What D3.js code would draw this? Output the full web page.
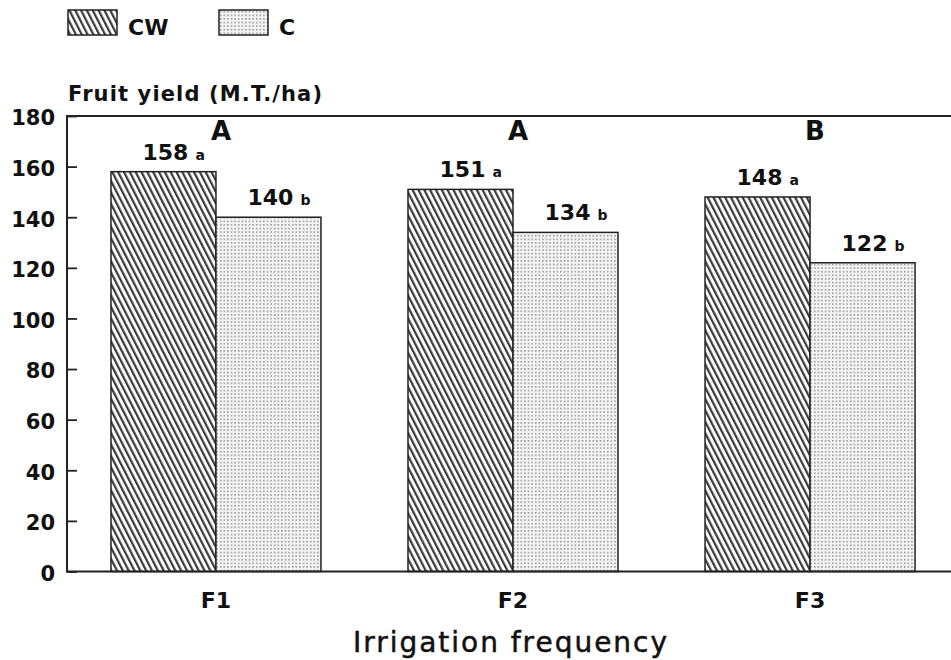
<!DOCTYPE html>
<html>
<head>
<meta charset="utf-8">
<script src="https://cdn.jsdelivr.net/npm/d3@7"></script>
<style>
  html, body { margin: 0; padding: 0; background: #fff; }
  svg { display: block; }
  text { font-family: "DejaVu Sans", "Liberation Sans", Arial, sans-serif; fill: #111; }
</style>
</head>
<body>
<svg id="chart" width="951" height="660"></svg>
<script>
// Fruit yield by irrigation frequency, two treatments
const groups = ["F1", "F2", "F3"];
const series = ["CW", "C"];
const cwValues = [158, 151, 148];
const cValues = [140, 134, 122];
const cwLetters = ["a", "a", "a"];
const cLetters = ["b", "b", "b"];
const groupLetters = ["A", "A", "B"];
const yTicks = [0, 20, 40, 60, 80, 100, 120, 140, 160, 180];
const yTitle = "Fruit yield (M.T./ha)";
const xTitle = "Irrigation frequency";

const rows = groups.map((g, i) => ({
  group: g,
  groupLetter: groupLetters[i],
  bars: [
    { key: "CW", value: cwValues[i], letter: cwLetters[i] },
    { key: "C", value: cValues[i], letter: cLetters[i] }
  ]
}));

const svg = d3.select("#chart");
const plotLeft = 67, plotTop = 116, plotBottom = 571.5, plotRight = 959;
const FONT = "'DejaVu Sans', 'Liberation Sans', Arial, sans-serif";

// fill patterns: dense diagonal hatch and fine dot screen
const defs = svg.append("defs");
const hatch = defs.append("pattern")
  .attr("id", "hatch")
  .attr("patternUnits", "userSpaceOnUse")
  .attr("width", 5.2).attr("height", 10)
  .attr("patternTransform", "rotate(-27)");
hatch.append("rect").attr("width", 5.2).attr("height", 10).attr("fill", "#fff");
hatch.append("rect").attr("x", 0).attr("width", 2.2).attr("height", 10).attr("fill", "#3a3a3a");

const dots = defs.append("pattern")
  .attr("id", "dots")
  .attr("patternUnits", "userSpaceOnUse")
  .attr("width", 3.6).attr("height", 3.6);
dots.append("rect").attr("width", 3.6).attr("height", 3.6).attr("fill", "#f4f4f4");
dots.append("rect").attr("x", 0.9).attr("y", 0.9).attr("width", 1.6).attr("height", 1.6).attr("fill", "#9a9a9a");

const fillFor = { CW: "url(#hatch)", C: "url(#dots)" };

// scales
const x0 = d3.scaleBand().domain(groups).range([plotLeft, plotRight])
  .paddingInner(0.293).paddingOuter(0.148);
const x1 = d3.scaleBand().domain(series).range([0, x0.bandwidth()]);
const y = d3.scaleLinear().domain([0, 180]).range([plotBottom, plotTop]);

// bars
const g = svg.append("g");
const grp = g.selectAll("g.grp").data(rows).join("g")
  .attr("class", "grp")
  .attr("transform", d => `translate(${x0(d.group)},0)`);

grp.selectAll("rect").data(d => d.bars).join("rect")
  .attr("x", d => x1(d.key))
  .attr("y", d => y(d.value))
  .attr("width", x1.bandwidth())
  .attr("height", d => y(0) - y(d.value))
  .attr("fill", d => fillFor[d.key])
  .attr("stroke", "#222")
  .attr("stroke-width", 1.5);

// value labels with significance letters
grp.each(function (d) {
  const sel = d3.select(this);
  d.bars.forEach(b => {
    const cx = x1(b.key) + x1.bandwidth() / 2 + 2;
    const t = sel.append("text")
      .attr("x", cx)
      .attr("y", y(b.value) - 12)
      .attr("text-anchor", "middle")
      .attr("font-size", 22)
      .attr("font-weight", "bold")
      .text(b.value);
    const bb = t.node().getBBox();
    sel.append("text")
      .attr("x", bb.x + bb.width + 7)
      .attr("y", y(b.value) - 12)
      .attr("font-size", 14)
      .attr("font-weight", "bold")
      .text(b.letter);
  });
  sel.append("text")
    .attr("x", x0.bandwidth() / 2 + 5)
    .attr("y", 140)
    .attr("text-anchor", "middle")
    .attr("font-size", 26)
    .attr("font-weight", "bold")
    .text(d.groupLetter);
});

// y axis with inward ticks
const yAxis = d3.axisLeft(y).tickValues(yTicks).tickSizeInner(-10).tickSizeOuter(0).tickPadding(12);
const ya = svg.append("g").attr("transform", `translate(${plotLeft},0)`).call(yAxis);
ya.select(".domain").remove();
ya.selectAll(".tick line").attr("stroke", "#222").attr("stroke-width", 1.8);
ya.selectAll(".tick text")
  .attr("font-size", 21)
  .attr("font-weight", "bold")
  .attr("dy", "0.42em")
  .attr("fill", "#111")
  .style("font-family", FONT);

// x axis labels
const xAxis = d3.axisBottom(x0).tickSize(0).tickPadding(0);
const xa = svg.append("g").attr("transform", `translate(0,${plotBottom})`).call(xAxis);
xa.select(".domain").remove();
xa.selectAll(".tick text")
  .attr("y", 36)
  .attr("dy", 0)
  .attr("font-size", 22)
  .attr("font-weight", "bold")
  .attr("fill", "#111")
  .style("font-family", FONT);

// plot frame: top, left and bottom edges
svg.append("path")
  .attr("d", `M${951},${plotTop}H${plotLeft}V${plotBottom}H${951}`)
  .attr("fill", "none")
  .attr("stroke", "#222")
  .attr("stroke-width", 2);

// axis titles
svg.append("text")
  .attr("x", 68).attr("y", 101)
  .attr("font-size", 21).attr("font-weight", "bold")
  .attr("textLength", 254).attr("lengthAdjust", "spacing")
  .text(yTitle);

svg.append("text")
  .attr("x", 353).attr("y", 652)
  .attr("font-size", 28)
  .attr("stroke", "#111").attr("stroke-width", 0.5)
  .attr("textLength", 314).attr("lengthAdjust", "spacing")
  .text(xTitle);

// legend
const legend = svg.append("g");
const legendX = d3.scalePoint().domain(series).range([68, 219]);
const li = legend.selectAll("g").data(series).join("g")
  .attr("transform", d => `translate(${legendX(d)},10)`);
li.append("rect")
  .attr("width", 49).attr("height", 25)
  .attr("fill", d => fillFor[d])
  .attr("stroke", "#222").attr("stroke-width", 1.5);
li.append("text")
  .attr("x", 60).attr("y", 25)
  .attr("font-size", 22).attr("font-weight", "bold")
  .text(d => d);
</script>
</body>
</html>
